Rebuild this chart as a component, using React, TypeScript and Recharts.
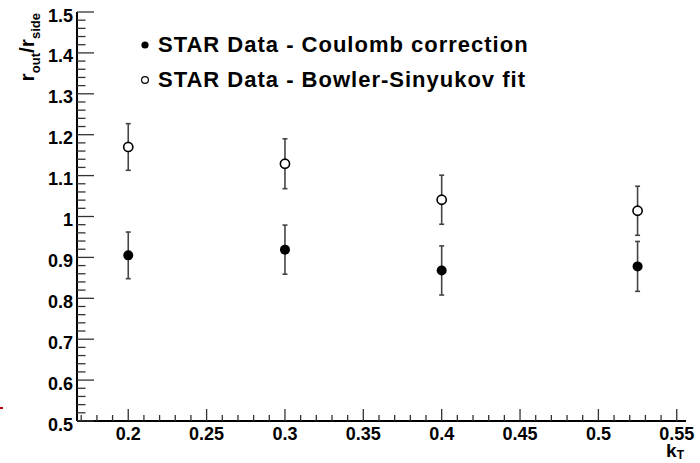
import React from 'react';
import { ScatterChart, Scatter, XAxis, YAxis, ErrorBar, Label } from 'recharts';

// kT bins and r_out/r_side values
const kT = [0.2, 0.3, 0.4, 0.525];
const coulombRatio = [0.905, 0.919, 0.868, 0.878];
const coulombErr = [0.057, 0.06, 0.06, 0.061];
const bowlerRatio = [1.17, 1.129, 1.041, 1.014];
const bowlerErr = [0.057, 0.061, 0.06, 0.06];

const seriesNames = ['STAR Data - Coulomb correction', 'STAR Data - Bowler-Sinyukov fit'];

const xMajorTicks = [0.2, 0.25, 0.3, 0.35, 0.4, 0.45, 0.5, 0.55];
const yMajorTicks = [0.5, 0.6, 0.7, 0.8, 0.9, 1, 1.1, 1.2, 1.3, 1.4, 1.5];
const xDomain = [0.1673, 0.5559];
const yDomain = [0.5, 1.5];

// minor ticks: x every 0.01, y every 0.02
const xTicks = Array.from({ length: 39 }, (_, i) => +(0.17 + i * 0.01).toFixed(2));
const yTicks = Array.from({ length: 51 }, (_, i) => +(0.5 + i * 0.02).toFixed(2));

const coulombData = kT.map((k, i) => ({ k, r: coulombRatio[i], err: coulombErr[i] }));
const bowlerData = kT.map((k, i) => ({ k, r: bowlerRatio[i], err: bowlerErr[i] }));

const FONT = '"Liberation Sans", Arial, Helvetica, sans-serif';

const isMajor = (v: number, majors: number[]) => majors.some((m) => Math.abs(m - v) < 1e-6);

const YTick = ({ x, y, payload }: any) => {
  const major = isMajor(payload.value, yMajorTicks);
  return (
    <g>
      <line x1={x} x2={x + (major ? 17 : 8.5)} y1={y} y2={y} stroke="#333" strokeWidth={1.3} />
      {major && (
        <text x={x - 4} y={y + 9.5} textAnchor="end" fontSize={18} fontWeight="bold" fontFamily={FONT} fill="#000">
          {String(payload.value)}
        </text>
      )}
    </g>
  );
};

const XTick = ({ x, y, payload }: any) => {
  const major = isMajor(payload.value, xMajorTicks);
  return (
    <g>
      <line x1={x} x2={x} y1={y} y2={y - (major ? 12 : 6)} stroke="#333" strokeWidth={1.3} />
      {major && (
        <text x={x} y={y + 19} textAnchor="middle" fontSize={18} fontWeight="bold" fontFamily={FONT} fill="#000">
          {String(payload.value)}
        </text>
      )}
    </g>
  );
};

const XTitle = ({ viewBox }: any) => (
  <text x={viewBox.x + viewBox.width - 2} y={457} textAnchor="end" fontSize={19} fontWeight="bold" fontFamily={FONT} fill="#000">
    k<tspan fontSize={12} dy={2}>T</tspan>
  </text>
);

const YTitle = () => (
  <text transform="translate(34,13) rotate(-90)" textAnchor="end" fontSize={21} fontWeight="bold" fontFamily={FONT} fill="#000">
    r<tspan fontSize={13} dy={6}>out</tspan>
    <tspan dy={-6}>/r</tspan>
    <tspan fontSize={13} dy={6}>side</tspan>
  </text>
);

const FilledDot = ({ cx, cy }: any) => <circle cx={cx} cy={cy} r={5} fill="#000" />;
const OpenDot = ({ cx, cy }: any) => <circle cx={cx} cy={cy} r={4.6} fill="#fff" stroke="#000" strokeWidth={1.6} />;

const LegendBox = () => (
  <div
    style={{
      position: 'absolute',
      left: 138,
      top: 27,
      fontFamily: FONT,
      fontWeight: 'bold',
      fontSize: 22,
      letterSpacing: 1,
      color: '#000',
    }}
  >
    {seriesNames.map((name, i) => (
      <div key={name} style={{ display: 'flex', alignItems: 'center', height: 35 }}>
        <svg width={20} height={20}>
          {i === 0 ? (
            <circle cx={7} cy={10} r={3.6} fill="#000" />
          ) : (
            <circle cx={7} cy={10} r={3.4} fill="#fff" stroke="#000" strokeWidth={1.2} />
          )}
        </svg>
        <span>{name}</span>
      </div>
    ))}
  </div>
);

export default function App() {
  return (
    <div style={{ position: 'absolute', left: 0, top: 0, width: 700, height: 463, background: '#fff' }}>
      <ScatterChart width={700} height={463} margin={{ top: 12, right: 14, bottom: 0, left: 0 }}>
        <XAxis
          dataKey="k"
          type="number"
          domain={xDomain}
          allowDataOverflow
          ticks={xTicks}
          interval={0}
          tick={<XTick />}
          tickLine={false}
          tickSize={0}
          tickMargin={0}
          height={42}
          axisLine={{ stroke: '#000', strokeWidth: 2 }}
        >
          <Label content={<XTitle />} />
        </XAxis>
        <XAxis
          xAxisId="top"
          orientation="top"
          type="number"
          domain={xDomain}
          height={0}
          tick={false}
          tickLine={false}
          axisLine={{ stroke: '#000', strokeWidth: 1.5 }}
        />
        <YAxis
          dataKey="r"
          type="number"
          domain={yDomain}
          allowDataOverflow
          ticks={yTicks}
          interval={0}
          tick={<YTick />}
          tickLine={false}
          tickSize={0}
          tickMargin={0}
          width={77}
          axisLine={{ stroke: '#000', strokeWidth: 2 }}
        >
          <Label content={<YTitle />} />
        </YAxis>
        <YAxis
          yAxisId="right"
          orientation="right"
          type="number"
          domain={yDomain}
          width={0}
          tick={false}
          tickLine={false}
          axisLine={{ stroke: '#3a0000', strokeWidth: 1.5 }}
        />
        <Scatter data={coulombData} shape={<FilledDot />} isAnimationActive={false}>
          <ErrorBar dataKey="err" direction="y" width={2.5} stroke="#444" strokeWidth={1.6} />
        </Scatter>
        <Scatter data={bowlerData} shape={<OpenDot />} isAnimationActive={false}>
          <ErrorBar dataKey="err" direction="y" width={2.5} stroke="#444" strokeWidth={1.6} />
        </Scatter>
      </ScatterChart>
      <LegendBox />
      <div style={{ position: 'absolute', left: 0, top: 407, width: 3, height: 2, background: '#b00' }} />
    </div>
  );
}
